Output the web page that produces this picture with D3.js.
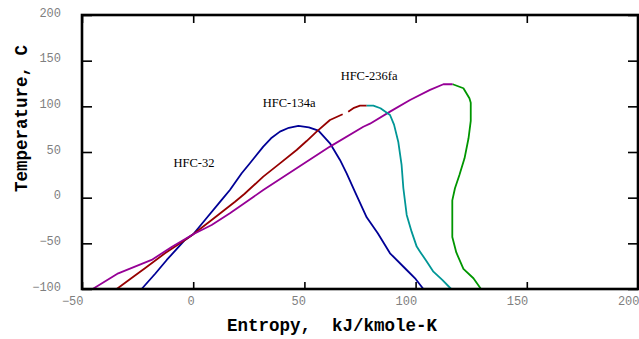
<!DOCTYPE html>
<html>
<head>
<meta charset="utf-8">
<script src="https://cdn.jsdelivr.net/npm/d3@7"></script>
<style>
  body { margin: 0; background: #fff; }
  svg { display: block; }
  .tick text { fill: #7f7f7f; font-family: 'Liberation Mono', 'DejaVu Sans Mono', monospace; font-size: 12px; }
  .title { font-family: 'Liberation Mono', 'Courier New', monospace; font-weight: bold; font-size: 17.5px; }
  .label { font-family: 'Liberation Serif', 'Times New Roman', serif; font-size: 12.5px; }
</style>
</head>
<body>
<script>
'use strict';

// axis ticks
var xTicks = [-50, 0, 50, 100, 150, 200];
var yTicks = [-100, -50, 0, 50, 100, 150, 200];

// HFC-32, liquid + vapor in one curve
var hfc32S = [-23.2, -17, -11.9, -3.7, 0, 5.3, 12.8, 16.5, 21.8, 25.5, 31.5, 35, 39, 43, 47.3, 52, 56.3, 61.5, 66, 69, 72.8, 78, 83, 88.5, 96, 100, 103.5];
var hfc32T = [-100, -83, -68.2, -46.3, -40, -24.4, -2.5, 8.4, 26.7, 37.7, 55.9, 65, 72.3, 76.5, 78.5, 77, 73.4, 59.5, 41.3, 26.7, 6, -21.5, -39, -60.9, -79.2, -89, -100];

// HFC-134a liquid (has a gap) and vapor
var hfc134aLiqS = [-34.4, -28, -21.7, -12.7, -3.7, 0, 8.3, 18.8, 23, 31.5, 39, 46.5, 51, 55.5, 61.5, 67.2, null, 69.7, 72, 75, 78];
var hfc134aLiqT = [-100, -88.5, -77.3, -60.9, -46.3, -40, -24.4, -4.4, 4, 23, 37.5, 52.2, 62, 72.3, 85, 91.3, null, 94.2, 98, 100.7, 100.7];
var hfc134aVapS = [78, 81, 84.2, 88.5, 90.3, 92.2, 93.7, 94.5, 96, 98.2, 100.5, 102, 105, 108, 112, 116];
var hfc134aVapT = [100.7, 100.7, 97.9, 90.5, 80, 61.3, 35.8, 10.3, -18.9, -37.2, -53.6, -59.1, -70, -81, -90, -100];

// HFC-236fa liquid and vapor
var hfc236faLiqS = [-45.2, -33.7, -18.7, -9.7, 0, 8.3, 16.5, 23, 31.5, 46.5, 61.5, 76.5, 79.5, 88.5, 97.5, 106.5, 112.5, 116.7];
var hfc236faLiqT = [-100, -82.8, -68.2, -54, -40, -29.9, -17, -6.1, 8.4, 32.2, 55.9, 77.7, 81, 94.2, 107, 118, 124.2, 124.2];
var hfc236faVapS = [116.7, 121.5, 124.2, 124.8, 124.8, 123.8, 122, 119.7, 117.7, 116.5, 116.5, 118.3, 121.5, 126, 129.4];
var hfc236faVapT = [124.2, 119.8, 108.8, 104, 84, 65, 43.1, 24.9, 10.3, -3, -43, -60, -78, -88.2, -100];

// curve labels, placed in data units
var labelNames = ['HFC-32', 'HFC-134a', 'HFC-236fa'];
var labelS = [-8.9, 31.3, 66.3];
var labelT = [33.6, 99, 128.3];

var width = 639, height = 339;
var plot = {left: 82, right: 638, top: 15, bottom: 289};

var svg = d3.select('body').append('svg')
    .attr('width', width)
    .attr('height', height);

var x = d3.scaleLinear().domain([-50, 200]).range([plot.left, plot.right]);
var y = d3.scaleLinear().domain([-100, 200]).range([plot.bottom, plot.top]);

// zip two arrays into points
function pts(s, t) {
    return s.map(function(d, i) { return d === null ? null : [d, t[i]]; });
}

var line = d3.line()
    .defined(function(d) { return d !== null; })
    .x(function(d) { return x(d[0]); })
    .y(function(d) { return y(d[1]); });

var curves = [
    {pts: pts(hfc32S, hfc32T), color: '#000096'},
    {pts: pts(hfc134aLiqS, hfc134aLiqT), color: '#960000'},
    {pts: pts(hfc236faLiqS, hfc236faLiqT), color: '#960096'},
    {pts: pts(hfc134aVapS, hfc134aVapT), color: '#009696'},
    {pts: pts(hfc236faVapS, hfc236faVapT), color: '#009600'}
];

svg.append('g').selectAll('path')
    .data(curves)
    .enter().append('path')
    .attr('d', function(d) { return line(d.pts); })
    .attr('fill', 'none')
    .attr('stroke', function(d) { return d.color; })
    .attr('stroke-width', 1.8)
    .attr('stroke-linejoin', 'round');

// axes, ticks point inward
var bottom = svg.append('g')
    .attr('transform', 'translate(0,' + plot.bottom + ')')
    .call(d3.axisBottom(x).tickValues(xTicks).tickSizeInner(-7).tickSizeOuter(0).tickPadding(7.5));
bottom.selectAll('text').attr('text-anchor', 'end').attr('x', 1);

var left = svg.append('g')
    .attr('transform', 'translate(' + plot.left + ',0)')
    .call(d3.axisLeft(y).tickValues(yTicks).tickSizeInner(-10).tickSizeOuter(0).tickPadding(21));
left.selectAll('text').attr('dy', '0.1em');

svg.append('g')
    .attr('transform', 'translate(0,' + plot.top + ')')
    .call(d3.axisTop(x).tickValues(xTicks).tickSizeInner(-8).tickSizeOuter(0).tickFormat(''));

svg.append('g')
    .attr('transform', 'translate(' + plot.right + ',0)')
    .call(d3.axisRight(y).tickValues(yTicks).tickSizeInner(-10).tickSizeOuter(0).tickFormat(''));

svg.selectAll('.domain').remove();
svg.selectAll('.tick line').attr('stroke', '#000').attr('stroke-width', 1.6);

// frame
svg.append('rect')
    .attr('x', plot.left)
    .attr('y', plot.top)
    .attr('width', plot.right - plot.left)
    .attr('height', plot.bottom - plot.top)
    .attr('fill', 'none')
    .attr('stroke', '#000')
    .attr('stroke-width', 2.6);

// curve labels
svg.append('g').selectAll('text')
    .data(labelNames)
    .enter().append('text')
    .attr('class', 'label')
    .attr('x', function(d, i) { return x(labelS[i]); })
    .attr('y', function(d, i) { return y(labelT[i]); })
    .text(function(d) { return d; });

// axis titles
svg.append('text')
    .attr('class', 'title')
    .attr('x', 332)
    .attr('y', 331)
    .attr('text-anchor', 'middle')
    .attr('xml:space', 'preserve')
    .style('white-space', 'pre')
    .text('Entropy,  kJ/kmole-K');

svg.append('text')
    .attr('class', 'title')
    .attr('transform', 'translate(26.5,118.5) rotate(-90)')
    .attr('text-anchor', 'middle')
    .text('Temperature, C');
</script>
</body>
</html>
